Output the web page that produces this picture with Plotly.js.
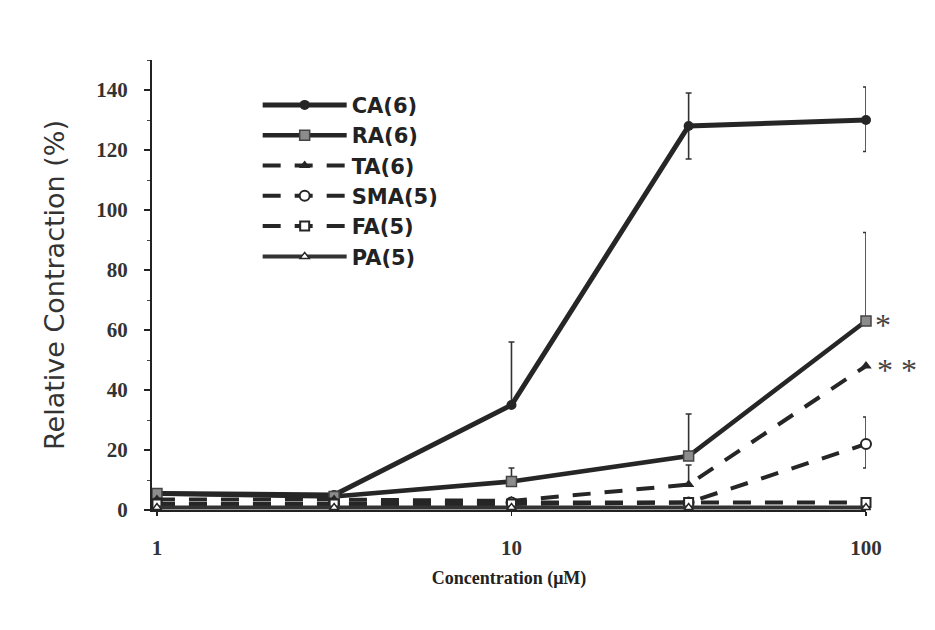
<!DOCTYPE html>
<html>
<head>
<meta charset="utf-8">
<script src="https://cdn.plot.ly/plotly-3.0.1.min.js"></script>
<style>html,body{margin:0;padding:0;background:#fff;}#chart{width:935px;height:630px;}</style>
</head>
<body>
<div id="chart"></div>
<script>
// Data
var concentration = [1, 3.16, 10, 31.6, 100];
var seriesNames = ["CA(6)", "RA(6)", "TA(6)", "SMA(5)", "FA(5)", "PA(5)"];
var CA = [5.5, 5, 35, 128, 130];
var CA_errPlus = [1.5, 1, 21, 11, 11];
var CA_errMinus = [0, 0, 0, 11, 10.5];
var RA = [5.5, 4.5, 9.5, 18, 63];
var RA_errPlus = [1.5, 1, 4.5, 14, 29.5];
var RA_errMinus = [0, 0, 0, 0, 0];
var TA = [3.5, 3.5, 3, 8.5, 48];
var TA_errPlus = [0, 0, 0, 6.5, 0];
var TA_errMinus = [0, 0, 0, 0, 0];
var SMA = [2, 2, 2.5, 2.5, 22];
var SMA_errPlus = [0, 0, 0, 0, 9];
var SMA_errMinus = [0, 0, 0, 0, 8];
var FA = [2, 2, 2, 2.5, 2.5];
var PA = [0.8, 0.8, 0.8, 0.8, 0.8];
var significance = ["*", "* *"];

var ink = "#262626";
function errBar(plus, minus) {
  return {type: "data", symmetric: false, array: plus, arrayminus: minus,
          color: "#333", thickness: 1.6, width: 3};
}
var traces = [
  {name: seriesNames[0], x: concentration, y: CA, mode: "lines+markers",
   line: {color: ink, width: 5}, marker: {symbol: "circle", size: 10, color: ink},
   error_y: errBar(CA_errPlus, CA_errMinus)},
  {name: seriesNames[1], x: concentration, y: RA, mode: "lines+markers",
   line: {color: ink, width: 4.5}, marker: {symbol: "square", size: 10, color: "#8c8c8c", line: {color: "#444", width: 1.5}},
   error_y: errBar(RA_errPlus, RA_errMinus)},
  {name: seriesNames[2], x: concentration, y: TA, mode: "lines+markers",
   line: {color: ink, width: 4, dash: "18px,14px"}, marker: {symbol: "triangle-up", size: 10, color: ink},
   error_y: errBar(TA_errPlus, TA_errMinus)},
  {name: seriesNames[3], x: concentration, y: SMA, mode: "lines+markers",
   line: {color: ink, width: 4, dash: "18px,14px"}, marker: {symbol: "circle", size: 10, color: "#fff", line: {color: ink, width: 2}},
   error_y: errBar(SMA_errPlus, SMA_errMinus)},
  {name: seriesNames[4], x: concentration, y: FA, mode: "lines+markers",
   line: {color: ink, width: 4, dash: "18px,14px"}, marker: {symbol: "square", size: 9, color: "#fff", line: {color: ink, width: 2}}},
  {name: seriesNames[5], x: concentration, y: PA, mode: "lines+markers",
   line: {color: "#333", width: 4}, marker: {symbol: "triangle-up", size: 8, color: "#fff", line: {color: ink, width: 1.5}}}
];
traces.forEach(function(t){ t.cliponaxis = false; });

var serifFont = "'Liberation Serif', 'Times New Roman', serif";
var layout = {
  width: 935, height: 630,
  paper_bgcolor: "#fff", plot_bgcolor: "#fff",
  margin: {l: 152, r: 69, t: 60, b: 120},
  showlegend: true,
  legend: {x: 0.148, y: 0.945, xanchor: "left", yanchor: "top",
           bgcolor: "rgba(0,0,0,0)", itemwidth: 84, tracegroupgap: 0,
           font: {family: "'DejaVu Sans', sans-serif", size: 21, color: "#222", weight: "bold"}},
  xaxis: {type: "log", range: [-0.014, 2.0], showgrid: false, zeroline: false,
          showline: true, linecolor: "#222", linewidth: 2,
          tickvals: [1, 10, 100], ticktext: ["1", "10", "100"],
          ticks: "outside", ticklen: 4, tickwidth: 1.5, tickcolor: "#222",
          ticklabelstandoff: 14,
          tickfont: {family: serifFont, size: 21, color: "#333", weight: "bold"},
          title: {text: "Concentration (μM)", standoff: 12,
                  font: {family: serifFont, size: 18, color: "#222", weight: "bold"}}},
  yaxis: {range: [0, 150], showgrid: false, zeroline: false,
          showline: true, linecolor: "#222", linewidth: 2,
          tickvals: [0, 20, 40, 60, 80, 100, 120, 140],
          ticks: "outside", ticklen: 6, tickwidth: 1.5, tickcolor: "#222",
          minor: {dtick: 10, tick0: 0, ticks: "outside", ticklen: 3, tickwidth: 1, tickcolor: "#444"},
          ticklabelstandoff: 12,
          tickfont: {family: serifFont, size: 21, color: "#333", weight: "bold"},
          title: {text: "Relative Contraction (%)", standoff: 24,
                  font: {family: "'DejaVu Sans', sans-serif", size: 27, color: "#333"}}},
  annotations: [
    {x: Math.log10(concentration[4]), y: RA[4], xref: "x", yref: "y", text: significance[0],
     showarrow: false, xanchor: "left", xshift: 7, yshift: -4,
     font: {family: serifFont, size: 32, color: "#444"}},
    {x: Math.log10(concentration[4]), y: TA[4], xref: "x", yref: "y", text: significance[1],
     showarrow: false, xanchor: "left", xshift: 9, yshift: -4,
     font: {family: serifFont, size: 32, color: "#444"}}
  ]
};
Plotly.newPlot("chart", traces, layout, {displayModeBar: false, staticPlot: true});
</script>
</body>
</html>
